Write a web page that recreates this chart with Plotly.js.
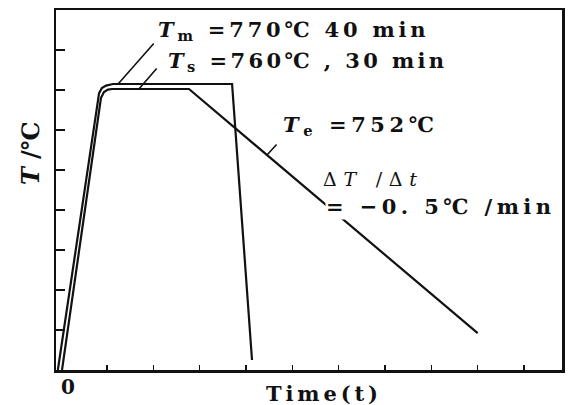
<!DOCTYPE html>
<html>
<head>
<meta charset="utf-8">
<script src="https://cdn.plot.ly/plotly-3.0.1.min.js"></script>
<style>html,body{margin:0;padding:0;background:#fff;}#chart{width:570px;height:405px;}</style>
</head>
<body>
<div id="chart"></div>
<script>
// Schematic heating / holding / cooling paths (time units = tick spacing, T units = tick spacing)
const tmTime = [-0.06, 0.83, 0.89, 0.98, 1.13, 3.70, 4.13];
const tmTemp = [0, 6.92, 7.05, 7.11, 7.15, 7.15, 0.25];
const tsTime = [0.03, 0.87, 0.935, 1.02, 1.11, 2.77, 9.0];
const tsTemp = [0, 6.80, 6.95, 7.01, 7.025, 7.025, 0.92];
const xTicks = [1, 2, 3, 4, 5, 6, 7, 8, 9, 10];
const yTicks = [1, 2, 3, 4, 5, 6, 7, 8];
const labels = [
  "<i>T</i><sub>m</sub> =770℃ 40 min",
  "<i>T</i><sub>s</sub> =760℃ , 30 min",
  "<i>T</i><sub>e</sub> =752℃",
  "Δ<i>T</i> /Δ<i>t</i>",
  "= −0. 5℃ /min"
];
const xTitle = "Time(t)";
const yTitle = "<i>T</i> /℃";

const FONT = "DejaVu Serif, Liberation Serif, serif";

const traces = [
  {x: tmTime, y: tmTemp, mode: 'lines', line: {color: '#111', width: 2.2}, hoverinfo: 'skip'},
  {x: tsTime, y: tsTemp, mode: 'lines', line: {color: '#111', width: 2.2}, hoverinfo: 'skip'}
];

const txt = (text, x, y, size, weight) => ({text: text, xref: 'paper', yref: 'paper', x: x, y: y, align: 'left',
  xanchor: 'left', yanchor: 'middle', showarrow: false, borderpad: 0, font: {family: FONT, size: size, color: '#111', weight: weight}});
const lead = (x, y, ax, ay) => ({text: '', x: x, y: y, xref: 'x', yref: 'y', showarrow: true,
  arrowhead: 0, arrowwidth: 1.6, arrowcolor: '#111', ax: ax, ay: ay});

const ann5 = txt(labels[4], 0.531, 0.4542, 21, 'bold');
ann5.bgcolor = '#fff';

const layout = {
  width: 570, height: 405,
  margin: {l: 56, r: 8, t: 10, b: 35},
  paper_bgcolor: '#fff', plot_bgcolor: '#fff',
  showlegend: false,
  xaxis: {range: [-0.1, 10.82], tickvals: xTicks, showticklabels: false, ticks: 'inside', ticklen: 5, tickwidth: 1.5, tickcolor: '#111',
    showgrid: false, zeroline: false, showline: true, linecolor: '#111', linewidth: 2.5, mirror: true, fixedrange: true},
  yaxis: {range: [0, 9], tickvals: yTicks, showticklabels: false, ticks: 'inside', ticklen: 9, tickwidth: 1.5, tickcolor: '#111',
    showgrid: false, zeroline: false, showline: true, linecolor: '#111', linewidth: 2.5, mirror: true, fixedrange: true},
  annotations: [
    txt(labels[0], 0.1996, 0.944, 21, 'bold'),
    txt(labels[1], 0.219, 0.858, 21, 'bold'),
    txt(labels[2], 0.4466, 0.678, 21, 'bold'),
    txt(labels[3], 0.5257, 0.5306, 19, 'normal'),
    ann5,
    lead(1.24, 7.15, 37, -42),
    lead(1.69, 7.025, 19, -22),
    lead(4.453, 5.375, 11, -12),
    {text: '0', xref: 'x', yref: 'paper', x: 0.157, y: -0.047, showarrow: false, xanchor: 'center', yanchor: 'middle',
      font: {family: FONT, size: 20, color: '#111', weight: 'bold'}},
    txt(xTitle, 0.413, -0.064, 21, 'bold'),
    {text: yTitle, xref: 'paper', yref: 'paper', x: -0.0514, y: 0.508, showarrow: false, textangle: -90, align: 'left',
      xanchor: 'center', yanchor: 'bottom', font: {family: FONT, size: 24, color: '#111', weight: 'bold'}}
  ]
};

// target drawn widths (px) of the texts
const widths = {0: 275, 1: 283, 2: 160, 3: 94, 4: 225, 9: 112, 10: 57};

Plotly.newPlot('chart', traces, layout, {displayModeBar: false, staticPlot: true}).then(() => {
  Object.keys(widths).forEach(k => {
    const el = document.querySelector('#chart .annotation[data-index="' + k + '"] .annotation-text');
    if (!el) return;
    el.style.letterSpacing = '0px';
    const L = el.getComputedTextLength();
    const n = el.textContent.length;
    const ls = Math.max(0, (widths[k] - L) / Math.max(1, n - 1));
    el.style.letterSpacing = ls.toFixed(2) + 'px';
  });
});
</script>
</body>
</html>
